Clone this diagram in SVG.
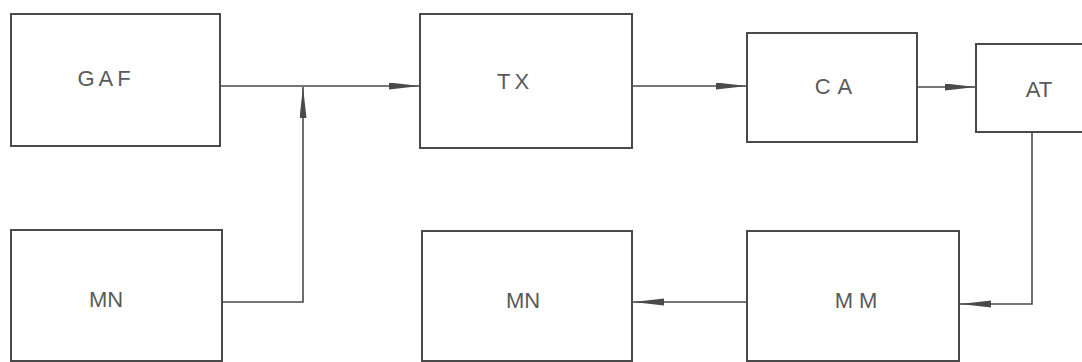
<svg xmlns="http://www.w3.org/2000/svg" width="1082" height="362" viewBox="0 0 1082 362">
  <style>
    .box { fill: #ffffff; stroke: #4a4a4a; stroke-width: 2; }
    .lbl { font-family: "Liberation Sans", Arial, sans-serif; font-size: 22px; fill: #5a5a5a; text-anchor: middle; }
    .wire { fill: none; stroke: #4a4a4a; stroke-width: 1.6; }
  </style>
  <defs>
    <marker id="arr" markerUnits="userSpaceOnUse" markerWidth="32" markerHeight="8" refX="31" refY="3.5" orient="auto">
      <path d="M0,0 L31,3.5 L0,7 Z" fill="#4a4a4a"/>
    </marker>
  </defs>
  <rect x="0" y="0" width="1082" height="362" fill="#ffffff"/>

  <g id="connectors">
    <path class="wire" d="M220,86 H420" marker-end="url(#arr)"/>
    <path class="wire" d="M222,302 H303 V87" marker-end="url(#arr)"/>
    <path class="wire" d="M632,86 H747" marker-end="url(#arr)"/>
    <path class="wire" d="M917,87 H976" marker-end="url(#arr)"/>
    <path class="wire" d="M1032,132 V304 H960" marker-end="url(#arr)"/>
    <path class="wire" d="M747,302 H633" marker-end="url(#arr)"/>
  </g>

  <g id="node-gaf">
    <rect class="box" x="11" y="14" width="209" height="132"/>
    <text class="lbl" x="106" y="86" letter-spacing="4">GAF</text>
  </g>
  <g id="node-mn-left">
    <rect class="box" x="11" y="230" width="211" height="131"/>
    <text class="lbl" x="106" y="307">MN</text>
  </g>
  <g id="node-tx">
    <rect class="box" x="420" y="14" width="212" height="134"/>
    <text class="lbl" x="515" y="89" letter-spacing="4">TX</text>
  </g>
  <g id="node-ca">
    <rect class="box" x="747" y="33" width="170" height="109"/>
    <text class="lbl" x="837" y="94" letter-spacing="7">CA</text>
  </g>
  <g id="node-at">
    <rect class="box" x="976" y="44" width="120" height="88"/>
    <text class="lbl" x="1039" y="97">AT</text>
  </g>
  <g id="node-mn-mid">
    <rect class="box" x="422" y="231" width="210" height="130"/>
    <text class="lbl" x="523" y="308">MN</text>
  </g>
  <g id="node-mm">
    <rect class="box" x="747" y="231" width="212" height="130"/>
    <text class="lbl" x="859" y="308" letter-spacing="6">MM</text>
  </g>
</svg>
